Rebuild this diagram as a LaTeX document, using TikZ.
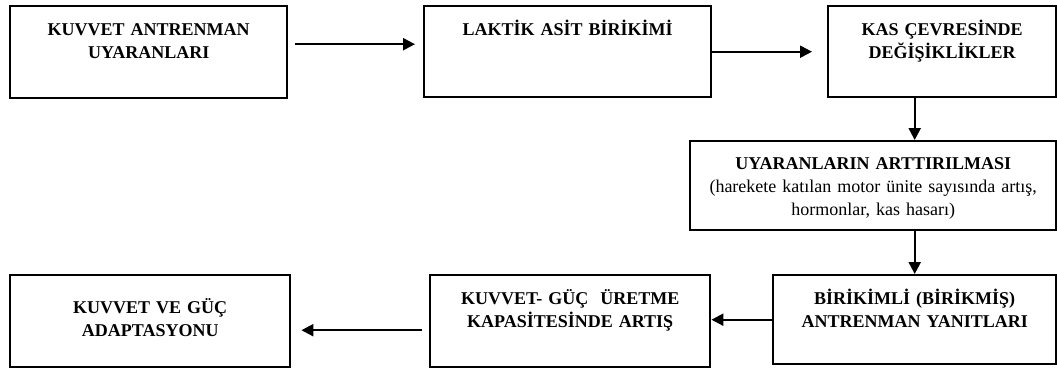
\documentclass[tikz,border=0pt]{standalone}
\usepackage{fontspec}
\setmainfont{Liberation Serif}
\usetikzlibrary{arrows.meta}
\begin{document}
\begin{tikzpicture}[x=1pt, y=-1pt,
        kutu/.style={draw, line width=2.4pt, anchor=north west, inner sep=0pt, align=center,
            text height=29pt, font=\bfseries\fontsize{18}{23}\selectfont},
        ok/.style={line width=2.2pt, -{Triangle[length=12pt, width=12pt]}}]
    \useasboundingbox (0,0) rectangle (1057,367);

    \node[kutu, text width=277pt, text depth=63pt] (antrenman) at (9,5) {KUVVET ANTRENMAN\\UYARANLARI};
    \node[kutu, text width=287pt, text depth=62pt] (laktik) at (423,5) {LAKTİK ASİT BİRİKİMİ};
    \node[kutu, text width=228pt, text depth=62pt] (kas) at (827,5) {KAS ÇEVRESİNDE\\DEĞİŞİKLİKLER};
    \node[kutu, text width=366pt, text height=28pt, text depth=61pt] (uyaran) at (689,140)
        {UYARANLARIN ARTTIRILMASI\\\mdseries(harekete katılan motor ünite sayısında artış,\\hormonlar, kas hasarı)};
    \node[kutu, text width=283pt, text depth=60pt] (birikim) at (772,274) {BİRİKİMLİ (BİRİKMİŞ)\\ANTRENMAN YANITLARI};
    \node[kutu, text width=280pt, text depth=63pt] (kapasite) at (429,274) {KUVVET- GÜÇ\ \ ÜRETME\\KAPASİTESİNDE ARTIŞ};
    \node[kutu, text width=280pt, text height=38pt, text depth=54pt] (adaptasyon) at (9,274) {KUVVET VE GÜÇ\\ADAPTASYONU};

    \draw[ok, shorten <=7pt, shorten >=8pt] ([yshift=8pt]antrenman.east) -- ([yshift=8pt]antrenman.east -| laktik.west);
    \draw[ok, shorten >=15pt] (laktik.east) -- (laktik.east -| kas.west);
    \draw[ok] (kas.south -| birikim.north) -- (uyaran.north -| birikim.north);
    \draw[ok] (uyaran.south -| birikim.north) -- (birikim.north);
    \draw[ok] (birikim.west) -- (birikim.west -| kapasite.east);
    \draw[ok, shorten <=7pt, shorten >=10pt] ([yshift=-9pt]kapasite.west) -- ([yshift=-9pt]kapasite.west -| adaptasyon.east);
\end{tikzpicture}
\end{document}
